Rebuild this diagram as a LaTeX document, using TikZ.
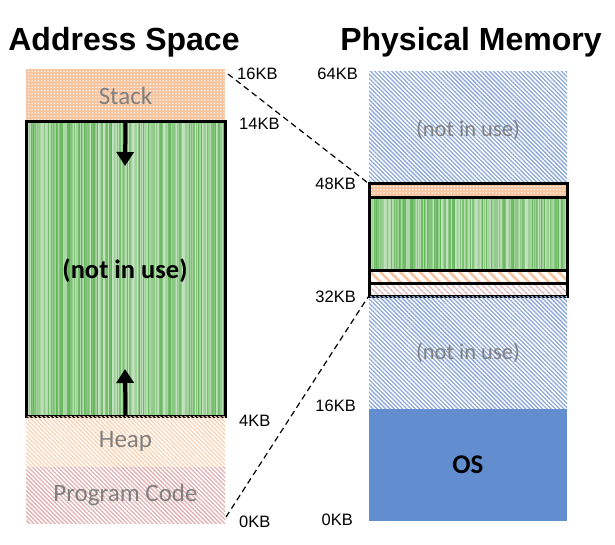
\documentclass[tikz,border=0pt]{standalone}
\usepackage{fontspec}
\setmainfont{Liberation Sans}
\newfontfamily\calfont{Carlito}
\usetikzlibrary{patterns,patterns.meta,arrows.meta}
\definecolor{stackor}{RGB}{247,196,160}
\definecolor{heapor}{RGB}{250,210,178}
\definecolor{codepk}{RGB}{226,176,176}
\definecolor{memblue}{RGB}{140,168,218}
\definecolor{osblue}{RGB}{98,142,208}
\definecolor{midgreen}{RGB}{95,178,85}
\definecolor{txtgray}{RGB}{128,128,128}
\tikzset{
  region/.style={inner sep=0pt, outer sep=0pt, anchor=north west},
  stackfill/.style={fill=stackor, postaction={pattern={Dots[radius=0.75pt,distance=3.2pt]}, pattern color=white}},
  heapfill/.style={pattern={Lines[angle=-45,distance=3pt,line width=1.3pt]}, pattern color=heapor},
  codefill/.style={pattern={Lines[angle=-45,distance=3pt,line width=1.3pt]}, pattern color=codepk},
  freefill/.style={pattern={Lines[angle=-45,distance=3pt,line width=1.3pt]}, pattern color=memblue},
  graytext/.style={font=\calfont\fontsize{25}{27}\selectfont, text=txtgray},
  kblabel/.style={font=\fontsize{16.5}{18}\selectfont, inner sep=0pt},
  title/.style={font=\bfseries\fontsize{32}{34}\selectfont, inner sep=0pt},
  growarrow/.style={line width=4pt, -{Triangle[length=14pt,width=17pt]}},
  mapline/.style={line width=1.2pt, dash pattern=on 6pt off 4pt},
  thickbox/.style={draw=black, line width=3pt}
}
\newcommand{\greenstripes}[4]{%
  \fill[midgreen!60!white] (#1,#2) rectangle (#3,#4);
  \pgfmathsetseed{7}
  \foreach \xx in {#1,...,#3} {
    \pgfmathsetmacro\cc{int(35+65*rnd)}
    \draw[midgreen!\cc!white, line width=1pt] (\xx+0.5,#2) -- (\xx+0.5,#4);
  }%
}
\begin{document}
\begin{tikzpicture}[x=1pt,y=-1pt]
\useasboundingbox (0,0) rectangle (615,545);
% titles
\node[title] (t1) at (124,42) {Address Space};
\node[title] (t2) at (471,42) {Physical Memory};
% ---------- address space ----------
\node[region, minimum width=199pt, minimum height=53pt, stackfill] (stack) at (26,69) {};
\node[graytext] (stacktxt) at (stack.center) {Stack};
\greenstripes{26}{122}{224}{416}
\node[region, minimum width=199pt, minimum height=294pt, thickbox] (free) at (26,122) {};
\node[font=\calfont\bfseries\fontsize{26.5}{28}\selectfont] (freetxt) at (125,271) {(not in use)};
\node[region, minimum width=199pt, minimum height=51pt, heapfill] (heap) at (26,416) {};
\node[graytext] (heaptxt) at (heap.center) {Heap};
\node[region, minimum width=199pt, minimum height=56pt, codefill] (code) at (26,467) {};
\node[graytext] (codetxt) at (code.center) {Program Code};
\coordinate (dn) at (125,166);
\coordinate (up) at (125,369);
\draw[growarrow] (free.north) -- (dn);
\draw[growarrow] (free.south) -- (up);
% labels left
\node[kblabel, anchor=west] (l16) at (237,74) {16KB};
\node[kblabel, anchor=west] (l14) at (239,124) {14KB};
\node[kblabel, anchor=west] (l4) at (239,421) {4KB};
\node[kblabel, anchor=west] (l0) at (239,522) {0KB};
% ---------- physical memory ----------
\node[region, minimum width=198pt, minimum height=112pt, freefill] (ptop) at (369,72) {};
\node[graytext, font=\calfont\fontsize{22.5}{24}\selectfont] (ptoptxt) at (468,130) {(not in use)};
\node[region, minimum width=198pt, minimum height=14pt, stackfill] (pstack) at (369,184) {};
\greenstripes{369}{198}{566}{270}
\node[region, minimum width=198pt, minimum height=72pt] (pgreen) at (369,198) {};
\node[region, minimum width=198pt, minimum height=13pt, pattern={Lines[angle=-45,distance=7pt,line width=2.6pt]}, pattern color=stackor] (pheap) at (369,270) {};
\node[region, minimum width=198pt, minimum height=13pt, pattern={Lines[angle=-45,distance=4pt,line width=1.4pt]}, pattern color=codepk] (pcode) at (369,283) {};
\draw[thickbox] (pstack.north west) rectangle (pcode.south east);
\draw[thickbox] (pstack.south west) -- (pstack.south east);
\draw[thickbox] (pgreen.south west) -- (pgreen.south east);
\draw[thickbox] (pheap.south west) -- (pheap.south east);
\node[region, minimum width=198pt, minimum height=113pt, freefill] (pmid) at (369,296) {};
\node[graytext, font=\calfont\fontsize{22.5}{24}\selectfont] (pmidtxt) at (468,353) {(not in use)};
\node[region, minimum width=198pt, minimum height=112pt, fill=osblue] (os) at (369,409) {};
\node[font=\calfont\bfseries\fontsize{27}{29}\selectfont] (ostxt) at (os.center) {OS};
% labels right
\node[kblabel, anchor=east] (r64) at (358,74) {64KB};
\node[kblabel, anchor=east] (r48) at (356,184) {48KB};
\node[kblabel, anchor=east] (r32) at (356,297) {32KB};
\node[kblabel, anchor=east] (r16) at (356,406) {16KB};
\node[kblabel, anchor=east] (r0) at (353,520) {0KB};
% mapping lines
\coordinate (a1) at ([shift={(3,5)}]stack.north east);
\coordinate (b1) at ([shift={(-1,-1)}]pstack.north west);
\coordinate (a2) at ([shift={(1,-6)}]code.south east);
\coordinate (b2) at ([shift={(-1,1)}]pcode.south west);
\draw[mapline] (a1) -- (b1);
\draw[mapline] (a2) -- (b2);
\end{tikzpicture}
\end{document}
